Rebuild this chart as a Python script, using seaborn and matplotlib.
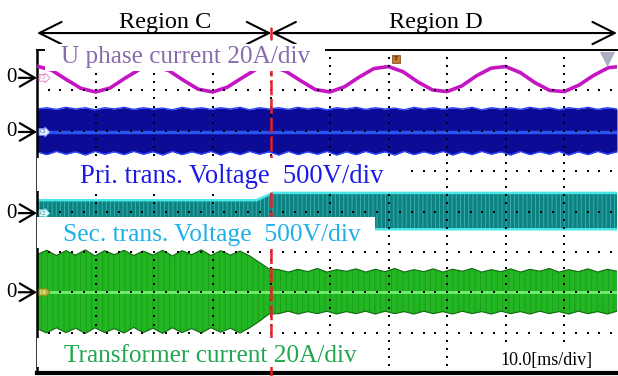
import numpy as np
import matplotlib
matplotlib.use('Agg')
import matplotlib.pyplot as plt
from matplotlib.patches import Rectangle
import seaborn as sns

# time bases in ms (10 ms/div, screen cropped at ~99 ms)
t_u = np.arange(0, 100.1, 2.5)
t_env = np.linspace(0, 99, 61)
t_sec = [0, 37.5, 40.2, 99]

# values in divisions (0 = bottom of screen, 8 = top)
u_phase = [7.60, 7.50, 7.27, 7.05, 6.96, 7.06, 7.30, 7.52, 7.60, 7.49,
           7.25, 7.03, 6.96, 7.08, 7.31, 7.53, 7.60, 7.47, 7.24, 7.02,
           6.96, 7.09, 7.33, 7.54, 7.59, 7.46, 7.21, 7.01, 6.97, 7.11,
           7.36, 7.55, 7.59, 7.44, 7.19, 7.00, 6.97, 7.13, 7.37, 7.56, 7.60]

pri_upper = [6.54, 6.57, 6.53, 6.58, 6.54, 6.57, 6.52, 6.57, 6.54, 6.58,
             6.53, 6.57, 6.54, 6.56, 6.52, 6.58, 6.54, 6.57, 6.53, 6.57,
             6.54, 6.58, 6.52, 6.57, 6.54, 6.57, 6.53, 6.58, 6.54, 6.57,
             6.52, 6.57, 6.54, 6.58, 6.53, 6.57, 6.54, 6.56, 6.52, 6.58,
             6.54, 6.57, 6.53, 6.57, 6.54, 6.58, 6.52, 6.57, 6.54, 6.57,
             6.53, 6.58, 6.54, 6.57, 6.52, 6.57, 6.54, 6.58, 6.53, 6.57, 6.54]
pri_lower = [5.48, 5.41, 5.49, 5.42, 5.48, 5.40, 5.49, 5.42, 5.48, 5.41,
             5.49, 5.42, 5.48, 5.40, 5.49, 5.41, 5.48, 5.42, 5.49, 5.40,
             5.48, 5.41, 5.49, 5.42, 5.48, 5.40, 5.49, 5.41, 5.48, 5.42,
             5.49, 5.40, 5.48, 5.41, 5.49, 5.42, 5.48, 5.40, 5.49, 5.41,
             5.48, 5.42, 5.49, 5.40, 5.48, 5.41, 5.49, 5.42, 5.48, 5.40,
             5.49, 5.41, 5.48, 5.42, 5.49, 5.40, 5.48, 5.41, 5.49, 5.42, 5.48]

sec_upper = [4.28, 4.28, 4.46, 4.46]
sec_lower = [3.64, 3.64, 3.56, 3.56]

tr_upper = [2.93, 3.04, 2.91, 3.03, 2.92, 3.05, 2.90, 3.03, 2.93, 3.04,
            2.91, 3.02, 2.92, 3.04, 2.90, 3.03, 2.93, 3.05, 2.91, 3.03,
            2.92, 3.02, 2.90, 2.74, 2.58, 2.56, 2.50, 2.57, 2.51, 2.59,
            2.50, 2.56, 2.52, 2.58, 2.50, 2.57, 2.51, 2.59, 2.50, 2.56,
            2.51, 2.58, 2.50, 2.57, 2.52, 2.59, 2.50, 2.56, 2.51, 2.58,
            2.50, 2.57, 2.52, 2.59, 2.50, 2.56, 2.51, 2.58, 2.50, 2.57, 2.52]
tr_lower = [1.10, 0.99, 1.12, 1.00, 1.11, 0.98, 1.12, 1.00, 1.10, 0.99,
            1.13, 1.00, 1.11, 0.98, 1.12, 1.00, 1.10, 0.99, 1.12, 1.01,
            1.11, 0.99, 1.12, 1.28, 1.46, 1.47, 1.53, 1.46, 1.52, 1.47,
            1.53, 1.46, 1.52, 1.47, 1.53, 1.46, 1.53, 1.47, 1.52, 1.46,
            1.53, 1.47, 1.52, 1.46, 1.53, 1.47, 1.52, 1.46, 1.53, 1.47,
            1.52, 1.46, 1.53, 1.47, 1.52, 1.46, 1.53, 1.47, 1.52, 1.46, 1.53]

zero_levels = [7.31, 5.97, 3.96, 2.0]
channel_tags = ['C3', 'C1', 'C2', 'C4']
labels = ['U phase current 20A/div', 'Pri. trans. Voltage  500V/div',
          'Sec. trans. Voltage  500V/div', 'Transformer current 20A/div']
regions = ['Region C', 'Region D']
region_edges = [0, 40, 99]
timebase = '10.0[ms/div]'

sns.set_theme(style='white')
plt.rcParams['font.family'] = ['Liberation Serif', 'DejaVu Serif']
plt.rcParams['hatch.linewidth'] = 0.6

fig = plt.figure(figsize=(6.18, 3.76), dpi=100)
ax = fig.add_axes([37 / 618, 3 / 376, 580 / 618, 323 / 376])
ax.set_xlim(0, 99)
ax.set_ylim(0, 8)
ax.set_xticks([])
ax.set_yticks([])
for s in ['left', 'top', 'bottom']:
    ax.spines[s].set_color('black')
ax.spines['left'].set_linewidth(1.8)
ax.spines['top'].set_linewidth(1.4)
ax.spines['bottom'].set_linewidth(3)
ax.spines['right'].set_visible(False)

# primary voltage (dark blue PWM band)
ax.fill_between(t_env, pri_lower, pri_upper, color='#0b0b95', lw=0, zorder=2)
ax.plot(t_env, pri_upper, color='#2a46ff', lw=1, zorder=2.2)
ax.plot(t_env, pri_lower, color='#2a46ff', lw=1, zorder=2.2)
ax.axhline(zero_levels[1], color='#3060ff', lw=2.5, alpha=0.85, zorder=2.3)

# secondary voltage (teal band)
ax.fill_between(t_sec, sec_lower, sec_upper, facecolor='#0c8282', edgecolor='#3fb3b3',
                hatch='||||', lw=0, zorder=2)
ax.plot(t_sec, sec_upper, color='#4be6e6', lw=1.8, zorder=2.2)
ax.plot(t_sec, sec_lower, color='#4be6e6', lw=1.8, zorder=2.2)

# transformer current (green band)
ax.fill_between(t_env, tr_lower, tr_upper, facecolor='#22b622', edgecolor='#1a9a1a',
                hatch='|||', lw=0, zorder=2)
ax.plot(t_env, tr_upper, color='#136813', lw=0.8, zorder=2.2)
ax.plot(t_env, tr_lower, color='#136813', lw=0.8, zorder=2.2)
ax.axhline(zero_levels[3], color='#72ee72', lw=2, zorder=2.3)

# U phase current
sns.lineplot(x=t_u, y=u_phase, ax=ax, color='#c414c4', lw=2.6, zorder=3)

# graticule dots
gx, gy = np.meshgrid(np.arange(0, 99, 2), np.arange(1, 8))
vx, vy = np.meshgrid(np.arange(10, 99, 10), np.arange(0, 8.01, 0.2))
ax.scatter(np.concatenate([gx.ravel(), vx.ravel()]),
           np.concatenate([gy.ravel(), vy.ravel()]),
           s=2.6, marker='s', c='black', lw=0, zorder=4)

# region boundary
ax.axvline(region_edges[1], ymin=-0.01, ymax=1, color='#e8202a', lw=1.8,
           dashes=(6, 1.5), zorder=5, clip_on=False)
ax.axvline(region_edges[1], ymin=1.035, ymax=1.068, color='#e8202a', lw=1.8,
           zorder=5, clip_on=False)

# white label boxes
boxes = [(1.4, 7.48, 47.8, 0.66), (0, 4.52, 62.8, 0.80), (0, 3.10, 57.7, 0.76),
         (0, 0.15, 56.8, 0.72), (78.2, 0.12, 17.9, 0.65)]
for x0, y0, w, h in boxes:
    ax.add_patch(Rectangle((x0, y0), w, h, fc='white', ec='none', zorder=6, clip_on=False))

colors = ['#8a6aae', '#1a1ae6', '#1fb0e8', '#1fa64f']
label_pos = [(25.4, 7.68), (33.2, 4.71), (29.8, 3.27), (29.5, 0.27)]
label_size = [18.2, 19.2, 18.4, 18.2]
for lab, (x, y), c, fs in zip(labels, label_pos, colors, label_size):
    ax.text(x, y, lab, color=c, fontsize=fs, ha='center', va='baseline', zorder=7)
ax.text(86.9, 0.20, timebase, color='black', fontsize=13, ha='center', va='baseline', zorder=7)

# region arrows and titles
for i, name in enumerate(regions):
    a, b = region_edges[i], region_edges[i + 1]
    ax.annotate('', xy=(a, 8.42), xytext=(b, 8.42),
                arrowprops=dict(arrowstyle='<->,head_length=0.8,head_width=0.4',
                                mutation_scale=20, lw=1.5, color='black',
                                shrinkA=0, shrinkB=0),
                annotation_clip=False)
ax.text(21.8, 8.545, regions[0], fontsize=17.5, ha='center', va='baseline', color='black')
ax.text(68.0, 8.545, regions[1], fontsize=17.5, ha='center', va='baseline', color='black')

# zero markers and channel tags
tag_style = [('white', '#e07ac0', '#e07ac0'), ('#e6ecff', '#8090ff', '#2040c0'),
             ('#dff8f8', '#60d0d0', '#208080'), ('#b8b830', '#909020', 'white')]
for z, tag, (fc, ec, tc) in zip(zero_levels, channel_tags, tag_style):
    ax.annotate('', xy=(0, z), xytext=(-3.1, z),
                arrowprops=dict(arrowstyle='->,head_length=0.6,head_width=0.35',
                                mutation_scale=18, lw=1.6, color='black',
                                shrinkA=0, shrinkB=0),
                annotation_clip=False)
    ax.text(-4.3, z, '0', fontsize=15, ha='center', va='center', color='black')
    ax.text(0.5, z, tag, fontsize=4, color=tc, ha='left', va='center', zorder=4.5,
            bbox=dict(boxstyle='rarrow,pad=0.15', fc=fc, ec=ec, lw=0.6))

# trigger marker and zoom flag
ax.text(61.3, 7.78, 'T', fontsize=5, color='black', ha='center', va='center', zorder=4.5,
        bbox=dict(boxstyle='square,pad=0.25', fc='#c8782a', ec='#7a4010', lw=0.5))
ax.scatter([97.3], [7.78], marker='v', s=120, c='#a8b0c0', lw=0, zorder=4.5, clip_on=False)

fig.savefig('out.png', dpi=100)
